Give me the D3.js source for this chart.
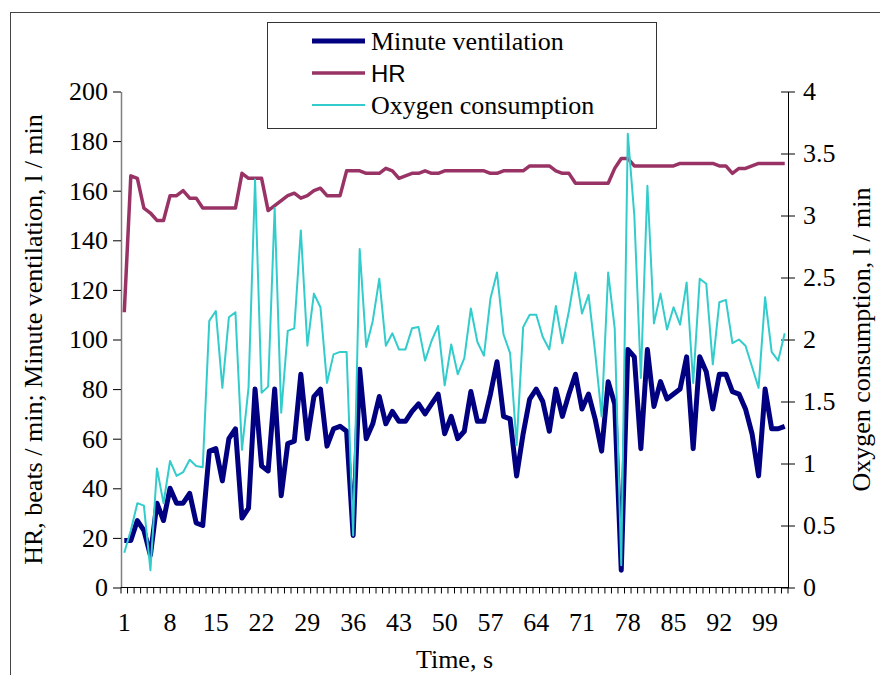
<!DOCTYPE html>
<html>
<head>
<meta charset="utf-8">
<script src="https://cdn.jsdelivr.net/npm/d3@7"></script>
<style>
  body { margin: 0; background: #fff; }
  text { font-family: "Liberation Serif", "Tinos", "Times New Roman", Times, "DejaVu Serif", serif; fill: #000; }
  text.sans { font-family: "Liberation Sans", Arial, sans-serif; }
</style>
</head>
<body>
<script>
// values, one per second
const minuteVent = [19,19,27,23,13,34,27,40,34,34,38,26,25,55,56,43,60,64,28,32,
  80,49,47,80,37,58,59,86,60,77,80,57,64,65,63,21,88,60,66,77,
  66,71,67,67,71,74,70,74,78,62,69,60,63,79,67,67,78,91,69,68,
  45,62,76,80,75,63,80,69,78,86,72,78,68,55,83,74,7,96,93,56,
  96,73,83,76,78,80,93,56,93,87,72,86,86,79,78,72,62,45,80,64,64,65];
const heartRate = [111,166,165,153,151,148,148,158,158,160,157,157,153,153,153,153,153,153,167,165,
  165,165,152,154,156,158,159,157,158,160,161,158,158,158,168,168,168,167,167,167,
  169,168,165,166,167,167,168,167,167,168,168,168,168,168,168,168,167,167,168,168,
  168,168,170,170,170,170,168,167,167,163,163,163,163,163,163,169,173,173,170,170,
  170,170,170,170,170,171,171,171,171,171,171,170,170,167,169,169,170,171,171,171,171,171];
const oxygen = [0.28,0.46,0.68,0.66,0.14,0.96,0.68,1.02,0.90,0.93,1.03,0.98,0.97,2.15,2.23,1.61,2.18,2.22,1.11,1.61,
  3.29,1.57,1.62,3.06,1.41,2.07,2.09,2.88,1.95,2.37,2.26,1.65,1.88,1.90,1.90,0.42,2.73,1.94,2.15,2.49,
  1.95,2.05,1.92,1.92,2.09,2.10,1.83,1.99,2.11,1.63,1.96,1.72,1.85,2.25,1.98,1.87,2.33,2.54,2.04,1.89,
  1.15,2.10,2.20,2.20,2.02,1.92,2.27,1.97,2.23,2.54,2.21,2.36,1.90,1.38,2.54,2.09,0.18,3.66,3.00,1.69,
  3.24,2.13,2.37,2.08,2.26,2.12,2.46,1.65,2.49,2.45,1.80,2.30,2.32,1.97,2.00,1.95,1.78,1.61,2.34,1.90,1.83,2.05];
const seconds = d3.range(1, minuteVent.length + 1);
const xLabels = [1, 8, 15, 22, 29, 36, 43, 50, 57, 64, 71, 78, 85, 92, 99];
const leftTicks = [0, 20, 40, 60, 80, 100, 120, 140, 160, 180, 200];
const rightTicks = [0, 0.5, 1, 1.5, 2, 2.5, 3, 3.5, 4];

const W = 880, H = 675;
const plot = {left: 121, right: 788, top: 91.5, bottom: 587.5};

const svg = d3.select("body").append("svg").attr("width", W).attr("height", H);

// outer frame of the chart object
svg.append("rect")
  .attr("x", 10.5).attr("y", 12.5).attr("width", 900).attr("height", 700)
  .attr("fill", "none").attr("stroke", "#444").attr("stroke-width", 1);

const x = d3.scaleBand().domain(seconds).range([plot.left, plot.right]);
const cx = d => x(d) + x.bandwidth() / 2;
const yL = d3.scaleLinear().domain([0, 200]).range([plot.bottom, plot.top]);
const yR = d3.scaleLinear().domain([0, 4]).range([plot.bottom, plot.top]);

// left axis
const gl = svg.append("g").attr("transform", `translate(${plot.left},0)`)
  .call(d3.axisLeft(yL).tickValues(leftTicks).tickSize(8).tickPadding(5).tickSizeOuter(0))
  .attr("font-family", null).attr("font-size", null);
gl.select(".domain").attr("stroke", "#808080").attr("stroke-width", 1.5);
gl.selectAll(".tick line").attr("stroke", "#000");
gl.selectAll(".tick text").attr("font-size", 26).attr("fill", "#000");

// right axis, ticks cross the line
const gr = svg.append("g").attr("transform", `translate(${plot.right},0)`)
  .call(d3.axisRight(yR).tickValues(rightTicks).tickFormat(d3.format("")).tickSize(7).tickPadding(8).tickSizeOuter(0))
  .attr("font-family", null).attr("font-size", null);
gr.select(".domain").attr("stroke", "#000");
gr.selectAll(".tick line").attr("x1", -7).attr("stroke", "#000");
gr.selectAll(".tick text").attr("font-size", 26).attr("fill", "#000");

// bottom axis: ticks between categories, labels every 7 s
const gb = svg.append("g");
gb.append("line")
  .attr("x1", plot.left).attr("x2", plot.right)
  .attr("y1", plot.bottom).attr("y2", plot.bottom)
  .attr("stroke", "#000");
gb.selectAll("line.tk").data(seconds.concat([null])).join("line")
  .attr("class", "tk")
  .attr("x1", d => d === null ? plot.right : x(d))
  .attr("x2", d => d === null ? plot.right : x(d))
  .attr("y1", plot.bottom).attr("y2", plot.bottom + 6)
  .attr("stroke", "#000");
gb.selectAll("text").data(xLabels).join("text")
  .attr("x", cx).attr("y", 631)
  .attr("text-anchor", "middle").attr("font-size", 26)
  .text(d => d);

// axis titles
svg.append("text")
  .attr("transform", `translate(42,${(plot.top + plot.bottom) / 2}) rotate(-90)`)
  .attr("text-anchor", "middle").attr("font-size", 26)
  .text("HR, beats / min; Minute ventilation, l / min");
svg.append("text")
  .attr("transform", `translate(870,${(plot.top + plot.bottom) / 2}) rotate(-90)`)
  .attr("text-anchor", "middle").attr("font-size", 26)
  .text("Oxygen consumption, l / min");
svg.append("text")
  .attr("x", (plot.left + plot.right) / 2).attr("y", 668)
  .attr("text-anchor", "middle").attr("font-size", 26)
  .text("Time, s");

// series
const lineL = d3.line().x((d, i) => cx(seconds[i])).y(d => yL(d));
const lineR = d3.line().x((d, i) => cx(seconds[i])).y(d => yR(d));

svg.append("path").datum(minuteVent)
  .attr("d", lineL).attr("fill", "none")
  .attr("stroke", "#000080").attr("stroke-width", 5).attr("stroke-linejoin", "round");
svg.append("path").datum(heartRate)
  .attr("d", lineL).attr("fill", "none")
  .attr("stroke", "#993366").attr("stroke-width", 3.5).attr("stroke-linejoin", "round");
svg.append("path").datum(oxygen)
  .attr("d", lineR).attr("fill", "none")
  .attr("stroke", "#33CCCC").attr("stroke-width", 2).attr("stroke-linejoin", "round");

// legend
const legend = svg.append("g");
legend.append("rect")
  .attr("x", 267.5).attr("y", 22.5).attr("width", 389).attr("height", 106)
  .attr("fill", "#fff").attr("stroke", "#333");
const legendItems = [
  {name: "Minute ventilation", color: "#000080", width: 5, cls: "", size: 26},
  {name: "HR", color: "#993366", width: 3.5, cls: "sans", size: 24},
  {name: "Oxygen consumption", color: "#33CCCC", width: 2, cls: "", size: 26}
];
const li = legend.selectAll("g.item").data(legendItems).join("g")
  .attr("class", "item")
  .attr("transform", (d, i) => `translate(0,${41 + i * 32})`);
li.append("line")
  .attr("x1", 312).attr("x2", 365).attr("y1", 0).attr("y2", 0)
  .attr("stroke", d => d.color).attr("stroke-width", d => d.width);
li.append("text")
  .attr("class", d => d.cls)
  .attr("x", 371).attr("y", 9)
  .attr("font-size", d => d.size)
  .text(d => d.name);
</script>
</body>
</html>
